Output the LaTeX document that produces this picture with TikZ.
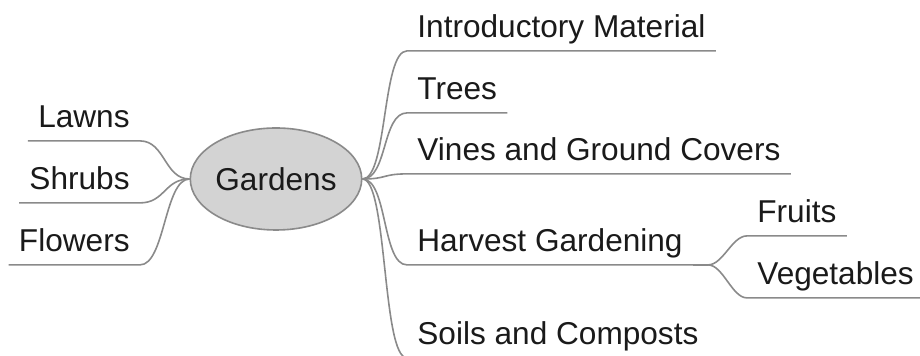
\documentclass[tikz,border=0pt]{standalone}
\usepackage{fontspec}
\setmainfont{Liberation Sans}
\usepackage{tikz}
\usetikzlibrary{shapes,positioning,calc}
\definecolor{gdFill}{HTML}{D3D3D3}
\definecolor{gdLine}{HTML}{8A8A8A}
\definecolor{gdText}{HTML}{1A1A1A}
\tikzset{
    gdRoot/.style={
        ellipse,
        draw=gdLine,
        fill=gdFill,
        line width=0.8pt,
        minimum width=81pt,
        minimum height=51pt,
        inner sep=0pt,
        font=\fontsize{15.8}{19}\selectfont,
        text=gdText
    },
    gdLeaf/.style={
        inner xsep=5pt,
        inner ysep=0pt,
        text depth=6.25pt,
        font=\fontsize{15.8}{19}\selectfont,
        text=gdText
    },
    % Sides
    gdRight/.style={gdLeaf, anchor=base west},
    gdLeft/.style={gdLeaf, anchor=base east},
    % Links
    gdLink/.style={draw=gdLine, line width=0.8pt}
}

\begin{document}
\begin{tikzpicture}[x=0.5pt, y=-0.5pt]
    \useasboundingbox (0,0) rectangle (920,356);

    \node[gdRoot] (gardens) at (276,179) {Gardens};

    % Right branches
    \node[gdRight] (intro) at (407,38) {Introductory Material};
    \node[gdRight] (trees) at (407,100) {Trees};
    \node[gdRight] (vines) at (407,161) {Vines and Ground Covers};
    \node[gdRight] (harvest) at (407,252) {Harvest Gardening};
    \node[gdRight] (soils) at (407,345) {Soils and Composts};
    \node[gdRight] (fruits) at (747,223) {Fruits};
    \node[gdRight] (vegetables) at (747,285) {Vegetables};

    % Left branches
    \node[gdLeft] (lawns) at (140,128) {Lawns};
    \node[gdLeft] (shrubs) at (140,190) {Shrubs};
    \node[gdLeft] (flowers) at (140,252) {Flowers};

    \foreach \leaf in {intro, trees, vines, harvest, soils}
        \draw[gdLink] (gardens.east) .. controls +(25,0) and +(-25,0) .. (\leaf.south west) -- (\leaf.south east);
    \foreach \leaf in {lawns, shrubs, flowers}
        \draw[gdLink] (gardens.west) .. controls +(-25,0) and +(25,0) .. (\leaf.south east) -- (\leaf.south west);

    \coordinate (harvestHub) at ([xshift=7.5pt]harvest.south east);
    \draw[gdLink] (harvest.south east) -- (harvestHub);
    \foreach \leaf in {fruits, vegetables}
        \draw[gdLink] (harvestHub) .. controls +(15,0) and +(-15,0) .. (\leaf.south west) -- (\leaf.south east);
\end{tikzpicture}
\end{document}
